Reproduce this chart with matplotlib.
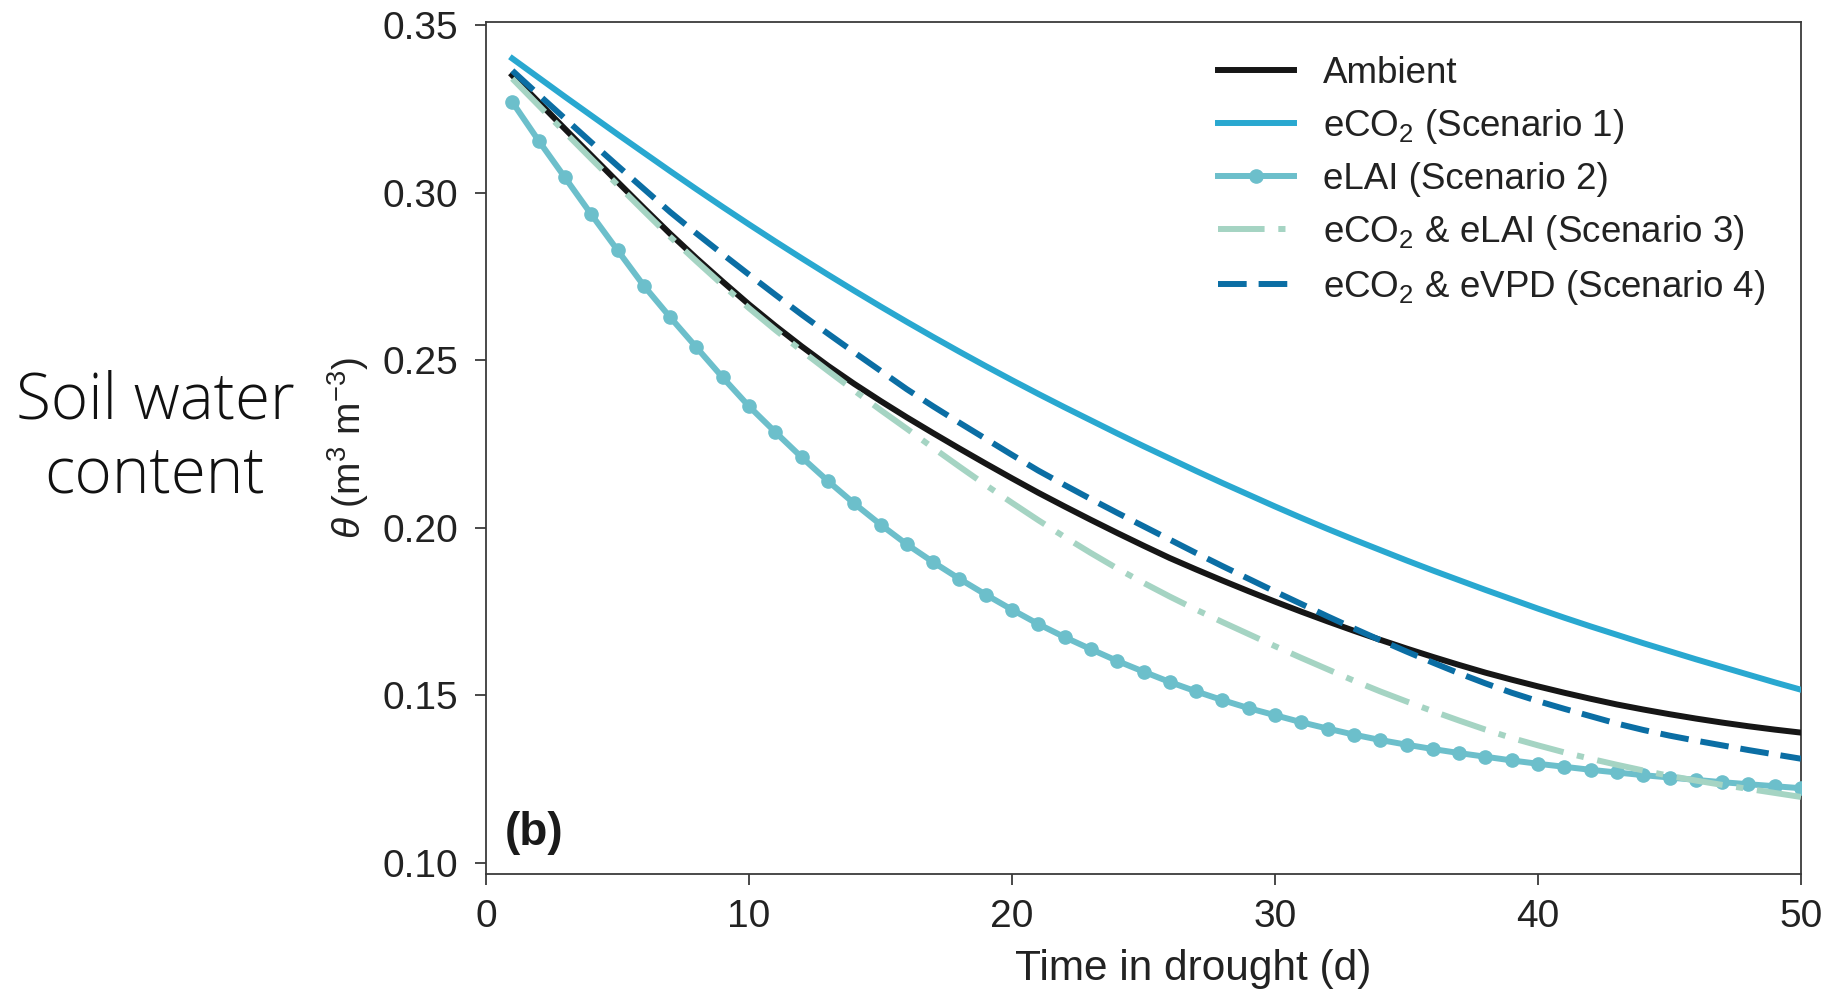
import matplotlib
matplotlib.use("Agg")
import matplotlib.pyplot as plt

plt.rcParams['font.family'] = ['Liberation Sans', 'DejaVu Sans']
plt.rcParams['mathtext.fontset'] = 'custom'
plt.rcParams['mathtext.rm'] = 'Liberation Sans'
plt.rcParams['mathtext.it'] = 'Liberation Sans:italic'
plt.rcParams['mathtext.bf'] = 'Liberation Sans:bold'

# ---- data, one value per day of drought ----
days = list(range(1, 51))

ambient = [0.3350, 0.3270, 0.3190, 0.3111, 0.3032, 0.2954, 0.2877, 0.2804, 0.2734, 0.2666,
           0.2602, 0.2541, 0.2483, 0.2429, 0.2378, 0.2329, 0.2282, 0.2236, 0.2191, 0.2147,
           0.2104, 0.2063, 0.2023, 0.1984, 0.1946, 0.1909, 0.1875, 0.1842, 0.1810, 0.1779,
           0.1749, 0.1720, 0.1692, 0.1665, 0.1639, 0.1614, 0.1590, 0.1567, 0.1546, 0.1526,
           0.1507, 0.1489, 0.1472, 0.1457, 0.1443, 0.1430, 0.1418, 0.1407, 0.1397, 0.1388]

eco2 = [0.3400, 0.3343, 0.3286, 0.3230, 0.3174, 0.3119, 0.3064, 0.3010, 0.2957, 0.2905,
        0.2854, 0.2804, 0.2755, 0.2707, 0.2660, 0.2614, 0.2569, 0.2525, 0.2482, 0.2440,
        0.2399, 0.2359, 0.2320, 0.2281, 0.2243, 0.2206, 0.2169, 0.2133, 0.2098, 0.2063,
        0.2029, 0.1996, 0.1964, 0.1933, 0.1902, 0.1872, 0.1843, 0.1814, 0.1786, 0.1758,
        0.1731, 0.1705, 0.1680, 0.1655, 0.1631, 0.1607, 0.1584, 0.1561, 0.1538, 0.1516]

elai = [0.3270, 0.3155, 0.3045, 0.2935, 0.2828, 0.2722, 0.2628, 0.2538, 0.2448, 0.2362,
        0.2285, 0.2210, 0.2139, 0.2072, 0.2009, 0.1950, 0.1897, 0.1847, 0.1800, 0.1755,
        0.1712, 0.1673, 0.1637, 0.1602, 0.1570, 0.1539, 0.1511, 0.1485, 0.1461, 0.1440,
        0.1419, 0.1400, 0.1382, 0.1366, 0.1352, 0.1339, 0.1327, 0.1316, 0.1305, 0.1295,
        0.1286, 0.1277, 0.1269, 0.1261, 0.1254, 0.1247, 0.1240, 0.1234, 0.1228, 0.1222]

eco2_elai = [0.3340, 0.3260, 0.3180, 0.3101, 0.3023, 0.2945, 0.2868, 0.2795, 0.2724, 0.2655,
             0.2590, 0.2528, 0.2468, 0.2409, 0.2351, 0.2295, 0.2238, 0.2182, 0.2127, 0.2074,
             0.2022, 0.1972, 0.1924, 0.1878, 0.1835, 0.1794, 0.1755, 0.1718, 0.1682, 0.1646,
             0.1611, 0.1577, 0.1543, 0.1511, 0.1481, 0.1452, 0.1424, 0.1397, 0.1372, 0.1350,
             0.1329, 0.1310, 0.1292, 0.1275, 0.1259, 0.1245, 0.1232, 0.1220, 0.1208, 0.1196]

eco2_evpd = [0.3364, 0.3292, 0.3221, 0.3150, 0.3080, 0.3011, 0.2942, 0.2878, 0.2816, 0.2755,
             0.2695, 0.2636, 0.2579, 0.2523, 0.2468, 0.2413, 0.2362, 0.2313, 0.2265, 0.2217,
             0.2170, 0.2127, 0.2085, 0.2044, 0.2004, 0.1964, 0.1924, 0.1885, 0.1847, 0.1809,
             0.1772, 0.1735, 0.1699, 0.1664, 0.1630, 0.1597, 0.1565, 0.1535, 0.1507, 0.1482,
             0.1459, 0.1437, 0.1415, 0.1396, 0.1379, 0.1364, 0.1350, 0.1336, 0.1323, 0.1310]

labels = ['Ambient', 'eCO$_2$ (Scenario 1)', 'eLAI (Scenario 2)',
          'eCO$_2$ & eLAI (Scenario 3)', 'eCO$_2$ & eVPD (Scenario 4)']
xticks = [0, 10, 20, 30, 40, 50]
yticks = [0.10, 0.15, 0.20, 0.25, 0.30, 0.35]

# ---- figure ----
W, H = 1828, 994
fig = plt.figure(figsize=(W / 100, H / 100), dpi=100)
ax = fig.add_axes([486 / W, 1 - 874 / H, 1315 / W, 852 / H])

lw = 4.3
ax.plot(days, ambient, color='#161616', lw=lw, label=labels[0], zorder=3)
ax.plot(days, eco2, color='#29a8d0', lw=lw, label=labels[1], zorder=3)
ax.plot(days, elai, color='#6cbfcb', lw=lw, marker='o', ms=9.5,
        label=labels[2], zorder=3)
ax.plot(days, eco2_elai, color='#a5d4c3', lw=lw,
        linestyle=(0, (7.8, 2.3, 1.2, 2.3)), label=labels[3], zorder=4)
ax.plot(days, eco2_evpd, color='#0b6ea4', lw=lw,
        linestyle=(0, (4.8, 2.0)), label=labels[4], zorder=5)

ax.set_xlim(0, 50)
ax.set_ylim(0.0966, 0.3509)
ax.set_xticks(xticks)
ax.set_xticklabels([str(t) for t in xticks])
ax.set_yticks(yticks)
ax.set_yticklabels(['%.2f' % t for t in yticks])

for s in ax.spines.values():
    s.set_color('#3a3a3a')
    s.set_linewidth(1.3)
ax.tick_params(axis='both', direction='out', length=8, width=1.3,
               color='#3a3a3a', labelsize=28, labelcolor='#222222')
ax.tick_params(axis='y', pad=12)
ax.tick_params(axis='x', pad=10)

ax.set_xlabel('Time in drought (d)', fontsize=30.5, color='#222222')
ax.xaxis.set_label_coords(0.5376, -0.088)
ax.set_ylabel(r'$\theta$ (m$^3$ m$^{-3}$)', fontsize=28, color='#222222')
ax.yaxis.set_label_coords(-0.0875, 0.5)

ax.text(0.014, 0.034, '(b)', transform=ax.transAxes, fontsize=33,
        fontweight='bold', color='#1a1a1a', ha='left', va='baseline')

leg = ax.legend(loc='upper left', bbox_to_anchor=(0.5567, 0.9598),
                frameon=False, fontsize=26.5, borderpad=0, borderaxespad=0,
                handlelength=2.06, handletextpad=0.8, labelspacing=0.433)
for t in leg.get_texts():
    t.set_color('#222222')

fig.text(155 / W, 1 - 439 / H, 'Soil water\ncontent', ha='center', va='center',
         fontsize=46, family=['Open Sans', 'DejaVu Sans'], fontweight='light',
         linespacing=1.18, color='#111111')

fig.savefig('out.png', dpi=100, facecolor='white')
